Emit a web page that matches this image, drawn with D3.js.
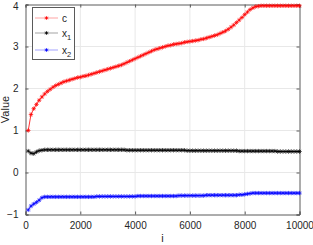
<!DOCTYPE html>
<html><head><meta charset="utf-8">
<script src="https://cdn.jsdelivr.net/npm/d3@7"></script>
<style>body{margin:0;background:#fff}svg{display:block;font-family:"Liberation Sans",Arial,sans-serif}</style>
</head><body><svg id="c" width="313" height="245"></svg>
<script>
const iters = d3.range(100, 10001, 100);
const cVals = [1.00,1.38,1.52,1.62,1.72,1.80,1.87,1.93,1.98,2.03,
2.07,2.10,2.13,2.16,2.18,2.20,2.22,2.24,2.26,2.27,
2.29,2.30,2.32,2.34,2.36,2.38,2.40,2.42,2.44,2.46,
2.48,2.50,2.52,2.54,2.56,2.59,2.62,2.65,2.68,2.71,
2.74,2.77,2.80,2.83,2.86,2.89,2.92,2.94,2.96,2.98,
3.00,3.02,3.03,3.05,3.06,3.07,3.08,3.10,3.11,3.12,
3.13,3.14,3.15,3.17,3.18,3.20,3.22,3.24,3.26,3.28,
3.31,3.34,3.37,3.41,3.46,3.51,3.57,3.63,3.69,3.76,
3.82,3.88,3.92,3.95,3.96,3.97,3.97,3.97,3.97,3.97,
3.97,3.97,3.97,3.97,3.97,3.97,3.97,3.97,3.97,3.97];
const x1Vals = [0.51,0.46,0.45,0.49,0.52,0.53,0.54,0.54,0.54,0.54,
0.54,0.54,0.54,0.54,0.54,0.54,0.54,0.54,0.54,0.54,
0.54,0.54,0.54,0.54,0.54,0.54,0.54,0.54,0.54,0.54,
0.54,0.54,0.54,0.54,0.54,0.54,0.53,0.53,0.53,0.53,
0.53,0.53,0.53,0.53,0.53,0.53,0.53,0.53,0.53,0.53,
0.53,0.53,0.53,0.53,0.53,0.53,0.53,0.53,0.52,0.52,
0.52,0.52,0.52,0.52,0.52,0.52,0.52,0.52,0.52,0.52,
0.52,0.52,0.52,0.52,0.52,0.52,0.52,0.51,0.51,0.51,
0.51,0.51,0.51,0.51,0.51,0.51,0.51,0.51,0.51,0.51,
0.51,0.50,0.50,0.50,0.50,0.50,0.50,0.50,0.50,0.50];
const x2Vals = [-0.89,-0.80,-0.75,-0.71,-0.66,-0.60,-0.58,-0.58,-0.58,-0.58,
-0.58,-0.58,-0.58,-0.58,-0.58,-0.58,-0.58,-0.58,-0.58,-0.58,
-0.58,-0.58,-0.58,-0.58,-0.58,-0.57,-0.57,-0.57,-0.57,-0.57,
-0.57,-0.57,-0.57,-0.57,-0.57,-0.57,-0.57,-0.57,-0.57,-0.57,
-0.56,-0.56,-0.56,-0.56,-0.56,-0.56,-0.56,-0.56,-0.56,-0.56,
-0.56,-0.56,-0.56,-0.56,-0.56,-0.55,-0.55,-0.55,-0.55,-0.55,
-0.55,-0.55,-0.55,-0.55,-0.55,-0.54,-0.54,-0.54,-0.54,-0.54,
-0.54,-0.54,-0.54,-0.54,-0.54,-0.54,-0.54,-0.53,-0.53,-0.52,
-0.51,-0.50,-0.49,-0.49,-0.49,-0.49,-0.49,-0.49,-0.49,-0.49,
-0.49,-0.49,-0.49,-0.49,-0.49,-0.49,-0.49,-0.49,-0.49,-0.49];
const seriesNames = ["c","x1","x2"];
const seriesColors = ["#ff0000","#000000","#0000ff"];
const xTicks = [0,2000,4000,6000,8000,10000];
const yTicks = [-1,0,1,2,3,4];

const svg = d3.select("#c");
const L=25.5, R=299.5, T=4.5, B=214.5;
const x = d3.scaleLinear().domain([0,10000]).range([L,R]);
const y = d3.scaleLinear().domain([-1,4]).range([B,T]);
const axc = "#262626";

// grid
svg.append("g").selectAll("line").data(xTicks.slice(1,-1)).join("line")
  .attr("x1",d=>x(d)).attr("x2",d=>x(d)).attr("y1",T).attr("y2",B)
  .attr("stroke","#e8e8e8").attr("stroke-width",1);
svg.append("g").selectAll("line").data(yTicks.slice(1,-1)).join("line")
  .attr("y1",d=>y(d)).attr("y2",d=>y(d)).attr("x1",L).attr("x2",R)
  .attr("stroke","#e8e8e8").attr("stroke-width",1);

// axes
const gx = svg.append("g").attr("transform",`translate(0,${B})`)
  .call(d3.axisBottom(x).tickValues(xTicks).tickSize(-3).tickPadding(7).tickFormat(d3.format("d")));
const gy = svg.append("g").attr("transform",`translate(${L},0)`)
  .call(d3.axisLeft(y).tickValues(yTicks).tickSize(-3).tickPadding(7).tickFormat(d3.format("d")));
const gx2 = svg.append("g").attr("transform",`translate(0,${T})`)
  .call(d3.axisTop(x).tickValues(xTicks).tickSize(-3).tickFormat(""));
const gy2 = svg.append("g").attr("transform",`translate(${R},0)`)
  .call(d3.axisRight(y).tickValues(yTicks).tickSize(-3).tickFormat(""));
[gx,gy,gx2,gy2].forEach(g=>{
  g.select(".domain").attr("stroke","#5a5a5a").attr("stroke-width",1);
  g.selectAll(".tick line").attr("stroke","#5a5a5a");
  g.selectAll("text").attr("fill",axc).attr("font-size",10).attr("font-family","Liberation Sans, Arial, sans-serif");
});
gy.selectAll(".tick text").filter(d=>d===4).attr("dy","0.5em");
svg.append("text").attr("x",(L+R)/2).attr("y",242).attr("text-anchor","middle")
  .attr("font-size",11).attr("fill",axc).text("i");
svg.append("text").attr("transform",`translate(9,${(T+B)/2}) rotate(-90)`).attr("text-anchor","middle")
  .attr("font-size",11).attr("fill",axc).text("Value");

// star marker
function star(cx,cy,s){
  const a=s*0.72;
  return `M${cx-s},${cy}L${cx+s},${cy}M${cx},${cy-s}L${cx},${cy+s}M${cx-a},${cy-a}L${cx+a},${cy+a}M${cx-a},${cy+a}L${cx+a},${cy-a}`;
}
const allVals=[cVals,x1Vals,x2Vals];
const line=d3.line().x((d,i)=>x(iters[i])).y(d=>y(d));
allVals.forEach((vals,k)=>{
  svg.append("path").datum(vals).attr("d",line).attr("fill","none")
    .attr("stroke",seriesColors[k]).attr("stroke-width",0.8);
  svg.append("path").attr("d",vals.map((v,i)=>star(x(iters[i]),y(v),2.2)).join(""))
    .attr("fill","none").attr("stroke",seriesColors[k]).attr("stroke-width",0.7);
});

// legend
const lg=svg.append("g");
lg.append("rect").attr("x",32.5).attr("y",7.5).attr("width",42).attr("height",52)
  .attr("fill","#fff").attr("stroke","#5a5a5a").attr("stroke-width",1);
const ly=[18,33,50];
seriesNames.forEach((n,k)=>{
  lg.append("line").attr("x1",35).attr("x2",58).attr("y1",ly[k]).attr("y2",ly[k])
    .attr("stroke",seriesColors[k]).attr("stroke-width",0.6).attr("opacity",0.6);
  lg.append("path").attr("d",star(46.5,ly[k],1.8)).attr("stroke",seriesColors[k]).attr("stroke-width",0.8);
  const t=lg.append("text").attr("x",62).attr("y",ly[k]+3.5).attr("font-size",10).attr("fill",axc);
  if(n==="c"){t.text("c");}
  else{t.text("x"); t.append("tspan").attr("font-size",7.5).attr("dy",3).text(n.slice(1));}
});
</script></body></html>
